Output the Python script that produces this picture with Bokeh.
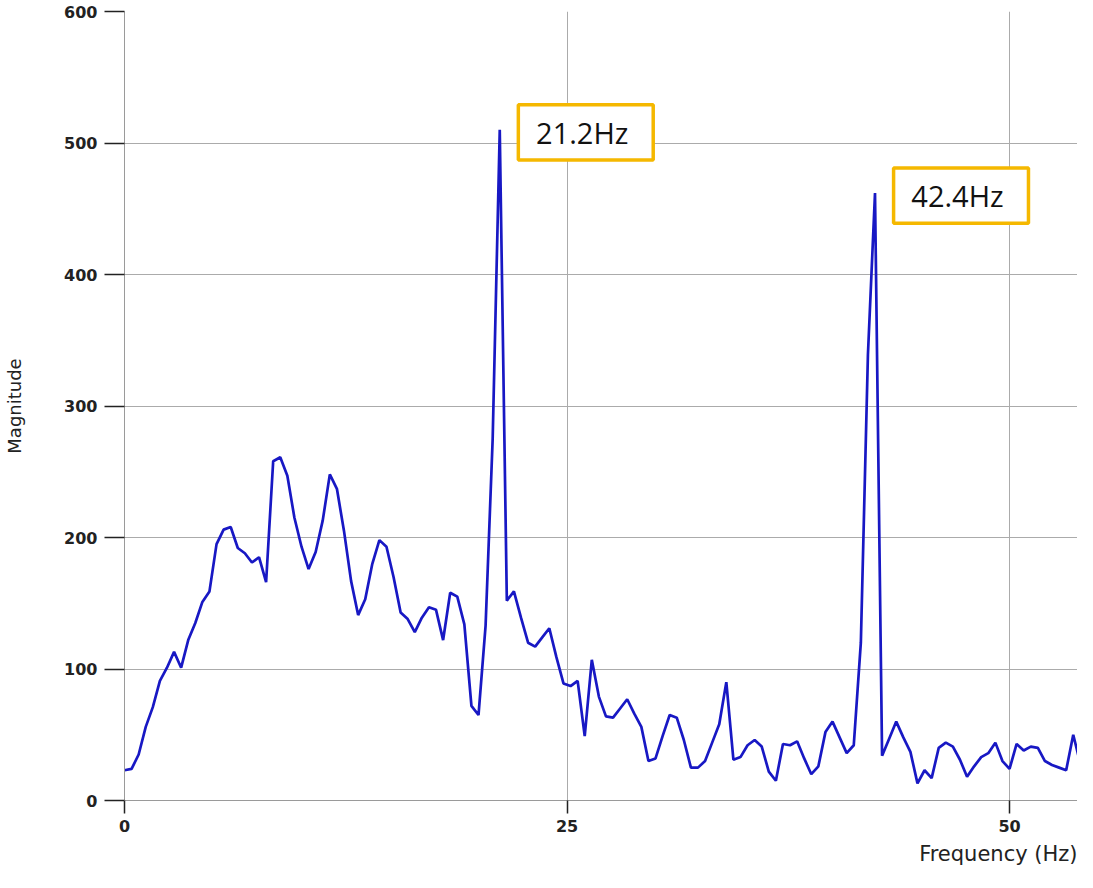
from bokeh.plotting import figure
from bokeh.models import Range1d, FixedTicker, Title, ColumnDataSource
from bokeh.core.properties import value
from bokeh.embed import file_html
from bokeh.resources import INLINE

# ---- data ----
freq_step = 0.4  # Hz per FFT bin
magnitude = [
    23, 24, 35, 56, 71, 91, 101, 113, 101, 122,
    135, 151, 159, 195, 206, 208, 192, 188, 181, 185,
    166, 258, 261, 247, 215, 193, 176, 189, 213, 248,
    237, 205, 167, 141, 153, 180, 198, 193, 170, 143,
    138, 128, 139, 147, 145, 122, 158, 155, 134, 72,
    65, 133, 275, 510, 152, 159, 139, 120, 117, 124,
    131, 109, 89, 87, 91, 49, 107, 79, 64, 63,
    70, 77, 66, 56, 30, 32, 49, 65, 63, 46,
    25, 25, 30, 44, 58, 90, 31, 33, 42, 46,
    41, 22, 15, 43, 42, 45, 32, 20, 26, 52,
    60, 48, 36, 42, 120, 339, 462, 34, 47, 60,
    48, 37, 13, 23, 17, 40, 44, 41, 31, 18,
    26, 33, 36, 44, 30, 24, 43, 38, 41, 40,
    30, 27, 25, 23, 50, 28, 25, 26,
]
frequency = [round(i * freq_step, 1) for i in range(len(magnitude))]

peak_freqs = [21.2, 42.4]
peak_labels = ["21.2Hz", "42.4Hz"]
x_ticks = [0, 25, 50]
y_ticks = [0, 100, 200, 300, 400, 500, 600]

# ---- figure ----
p = figure(width=1077, height=872, output_backend="svg", toolbar_location=None,
           x_range=Range1d(0, 53.84), y_range=Range1d(0, 600),
           min_border_left=124, min_border_right=0, min_border_top=11,
           min_border_bottom=72)
p.outline_line_color = None
p.background_fill_color = "white"
p.border_fill_color = "white"

grid_color = "#ababab"
p.xgrid.ticker = FixedTicker(ticks=x_ticks)
p.ygrid.ticker = FixedTicker(ticks=y_ticks)
for g in (p.xgrid, p.ygrid):
    g.grid_line_color = grid_color
    g.grid_line_width = 1

p.xaxis.ticker = FixedTicker(ticks=x_ticks)
p.yaxis.ticker = FixedTicker(ticks=y_ticks)
for ax in (p.xaxis, p.yaxis):
    ax.axis_line_color = "#9a9a9a"
    ax.axis_line_width = 1
    ax.major_tick_line_color = "#222222"
    ax.major_tick_line_width = 1.5
    ax.minor_tick_line_color = None
    ax.major_tick_in = 0
    ax.major_label_text_font = "DejaVu Sans"
    ax.major_label_text_font_style = "bold"
    ax.major_label_text_font_size = "16px"
    ax.major_label_text_color = "#222222"

p.yaxis.major_tick_out = 20
p.yaxis.major_label_standoff = 7
p.yaxis.axis_label = "Magnitude"
p.yaxis.axis_label_text_font = "DejaVu Sans"
p.yaxis.axis_label_text_font_style = "normal"
p.yaxis.axis_label_text_font_size = "18px"
p.yaxis.axis_label_text_color = "#222222"
p.yaxis.axis_label_standoff = 36

p.xaxis.major_tick_out = 13
p.xaxis.major_label_standoff = 6

p.add_layout(Title(text="Frequency (Hz)", align="right", text_font="DejaVu Sans",
                   text_font_style="normal", text_font_size="21px",
                   text_color="#222222", standoff=11), "below")

# ---- spectrum line ----
src = ColumnDataSource(dict(f=frequency, m=magnitude))
p.line("f", "m", source=src, line_color="#1818c4", line_width=2.7)

# ---- peak annotation boxes ----
box_w, box_h = 7.62, 42.0
lefts, rights, tops, bottoms, cx, cy = [], [], [], [], [], []
for f in peak_freqs:
    m = magnitude[int(round(f / freq_step))]
    left = f + 1.05
    top = m + 19
    lefts.append(left)
    rights.append(left + box_w)
    tops.append(top)
    bottoms.append(top - box_h)
    cx.append(left + box_w / 2 - 0.2)
    cy.append(top - box_h / 2)

p.quad(left=lefts, right=rights, top=tops, bottom=bottoms,
       fill_color="white", line_color="#f5b800", line_width=3.5)
p.text(x=cx, y=cy, text=peak_labels, text_align="center", text_baseline="middle",
       text_font=value("Open Sans"), text_font_size="29px", text_color="#111111")

open("out.html", "w").write(file_html(p, INLINE))
